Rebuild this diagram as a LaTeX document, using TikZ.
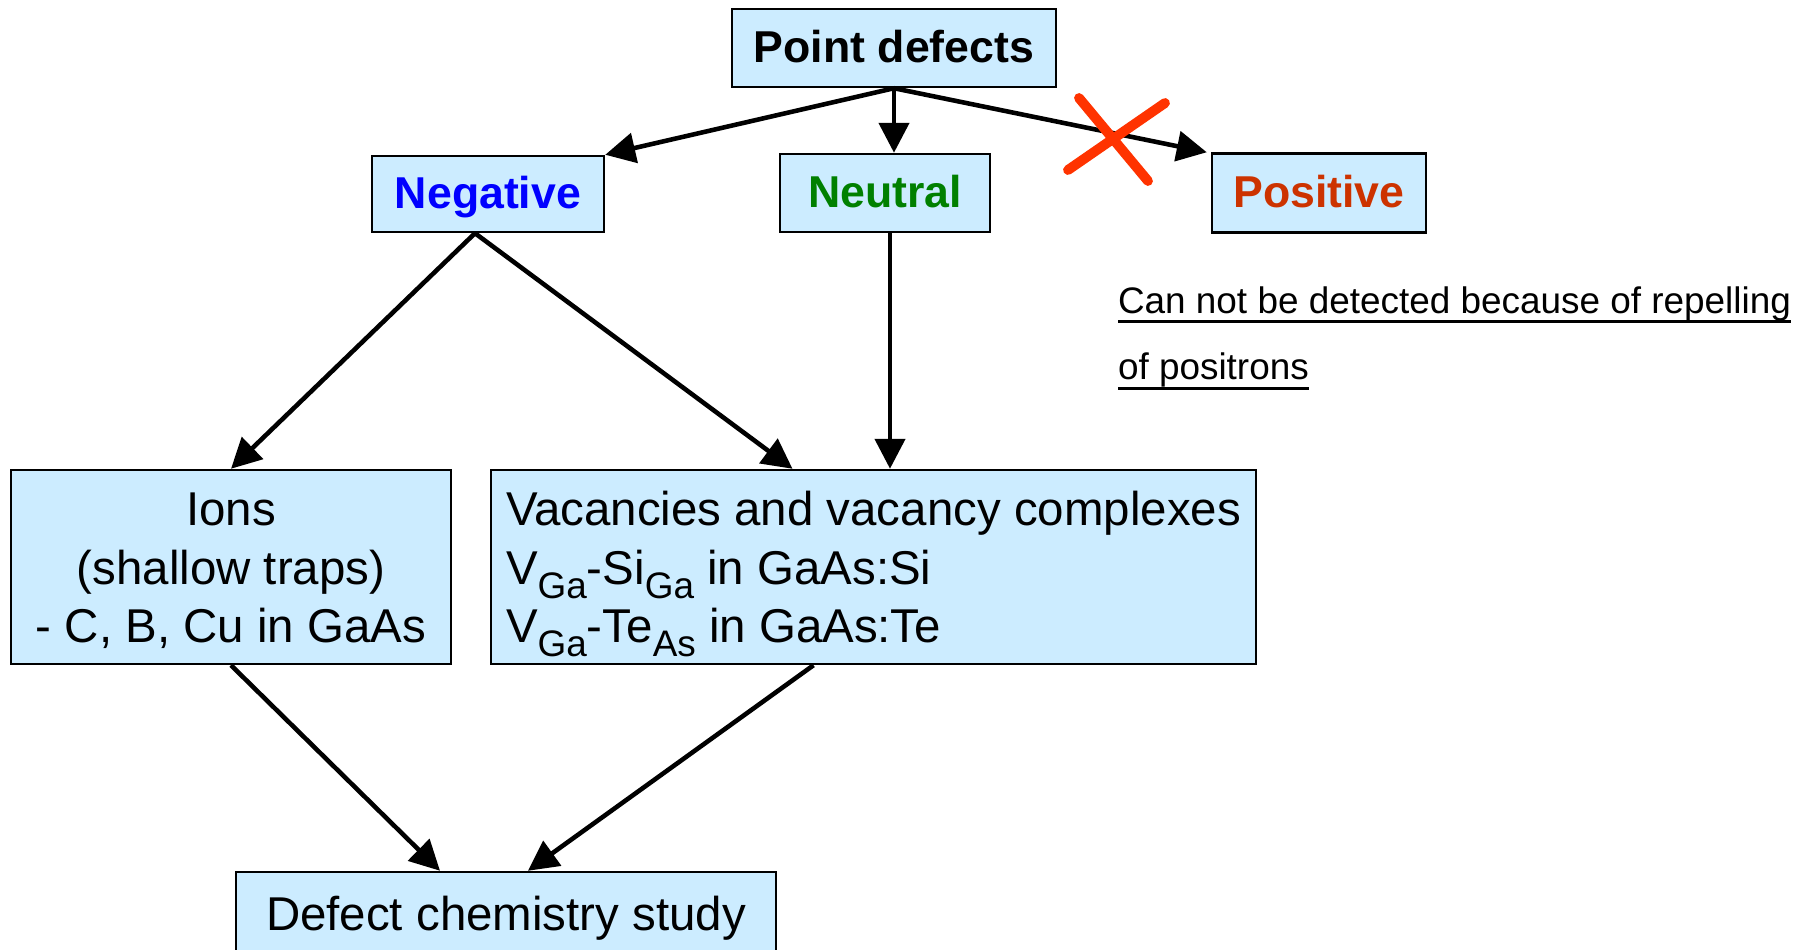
\documentclass[tikz,border=0pt]{standalone}
\usepackage{fontspec}
\setmainfont{Liberation Sans}
\usetikzlibrary{arrows.meta}
\definecolor{boxblue}{RGB}{204,236,255}
\definecolor{negblue}{RGB}{0,0,255}
\definecolor{neugreen}{RGB}{0,128,0}
\definecolor{posred}{RGB}{204,51,0}
\definecolor{crossred}{RGB}{255,51,0}
\newcommand\lowsub[1]{\raisebox{-4pt}{\fontsize{10.5}{10.5}\selectfont #1}}
\newcommand\undl[1]{\setbox0\hbox{#1}\rlap{\rule[-2.8pt]{\wd0}{0.75pt}}\box0}
\newcommand\tstr{\rule{0pt}{13.9pt}}
\newcommand\bstr{\rule[-4.2pt]{0pt}{4.2pt}}
\tikzset{every path/.style={semithick}}
\tikzset{
  box/.style={draw,fill=boxblue,line width=0.7pt,inner sep=0pt},
  tag/.style={font=\fontsize{12.7}{15}\selectfont\bfseries,text height=10.9pt,text depth=2.7pt},
  txt/.style={font=\fontsize{13.5}{16.6}\selectfont},
  arr/.style={-{Triangle[length=0.3cm,width=0.3cm]},line width=1.3pt}
}

\begin{document}
\begin{tikzpicture}
    \useasboundingbox (0,0) rectangle (18,9.49);
    \node[box,tag,minimum width=3.24cm,minimum height=0.78cm] (PD) at (8.94,9.01) {Point defects};
    \node[box,tag,text=negblue,minimum width=2.32cm,minimum height=0.76cm] (NEG) at (4.88,7.55) {Negative};
    \node[box,tag,text=neugreen,minimum width=2.10cm,minimum height=0.78cm] (NEU) at (8.85,7.56) {Neutral};
    \node[box,tag,text=posred,minimum width=2.14cm,minimum height=0.79cm] (POS) at (13.19,7.56) {Positive};
    \node[anchor=west,align=left,inner sep=0pt,font=\fontsize{10.5}{19}\selectfont] (NOTE) at (11.17,6.11)
      {\undl{Can not be detected because of repelling}\\\undl{of positrons}};

    \node[box,txt,align=center,minimum width=4.40cm,minimum height=1.94cm] (IONS) at (2.31,3.82)
      {\tstr Ions\\(shallow traps)\\- C, B, Cu in GaAs\bstr};
    \node[box,txt,align=left,minimum width=7.65cm,minimum height=1.94cm] (VAC) at (8.735,3.82)
      {\tstr Vacancies and vacancy complexes\\V\lowsub{Ga}-Si\lowsub{Ga} in GaAs:Si\\V\lowsub{Ga}-Te\lowsub{As} in GaAs:Te\bstr};
    \node[box,txt,text height=12.5pt,text depth=2.8pt,minimum width=5.40cm,minimum height=0.82cm] (DCS) at (5.06,0.36) {Defect chemistry study};

    \draw[arr] (PD.south) -- (NEG.north east);
    \draw[arr] (PD.south) -- (PD.south |- NEU.north);
    \draw[arr] (PD.south) -- ([xshift=-0.04cm]POS.north west);
    \draw[crossred,line width=2.8pt,line cap=round] (10.68,7.79) -- (11.65,8.46);
    \draw[crossred,line width=2.8pt,line cap=round] (10.79,8.51) -- (11.48,7.68);

    \draw[arr] ([xshift=-0.13cm]NEG.south) -- (IONS.north);
    \draw[arr] ([xshift=-0.13cm]NEG.south) -- ([xshift=-0.81cm]VAC.north);
    \draw[arr] ([xshift=0.05cm]NEU.south) -- ([xshift=0.05cm]NEU.south |- VAC.north);
    \draw[arr] (IONS.south) -- ([xshift=-0.66cm]DCS.north);
    \draw[arr] ([xshift=-0.6cm]VAC.south) -- ([xshift=0.22cm]DCS.north);
\end{tikzpicture}
\end{document}
